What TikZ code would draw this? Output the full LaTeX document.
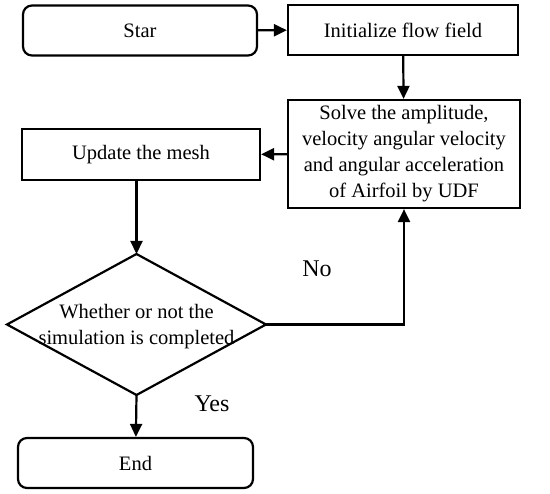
\documentclass[tikz,border=0pt]{standalone}
\usepackage{fontspec}
\setmainfont{Liberation Serif}
\usetikzlibrary{arrows.meta}
\begin{document}
\begin{tikzpicture}[x=1pt,y=-1pt,
  every node/.style={font=\fontsize{20.5}{26}\selectfont},
  lbl/.style={font=\fontsize{24}{28}\selectfont},
  box/.style={draw,line width=2.2pt,minimum height=50pt,align=center,inner sep=2pt},
  rbox/.style={box,rounded corners=9pt},
  conn/.style={line width=2.2pt,-{Triangle[length=13pt,width=12pt]}}]
\useasboundingbox (0,0) rectangle (550,494);
\node[rbox,minimum width=234pt] (star) at (140,30.5) {Star};
\node[box,minimum width=230pt] (init) at (403,30) {Initialize flow field};
\node[box,minimum width=232pt,minimum height=108pt] (solve) at (404,154) {Solve the amplitude,\\velocity angular velocity\\and angular acceleration\\of Airfoil by UDF};
\node[box,minimum width=238pt,minimum height=51pt] (upd) at (141,154.5) {Update the mesh};
\coordinate (dtop) at (136.5,254);
\coordinate (dbot) at (136.5,395);
\coordinate (dleft) at (7,324.5);
\coordinate (dright) at (266,324.5);
\draw[line width=2.2pt,line join=miter] (dtop) -- (dright) -- (dbot) -- (dleft) -- cycle;
\node[align=center] (dec) at (136.5,327) {Whether or not the\\simulation is completed};
\node[rbox,minimum width=235pt] (end) at (135.5,463) {End};
\node[lbl] (no) at (317,269) {No};
\node[lbl] (yes) at (212,404) {Yes};
\draw[conn] (star) -- (init);
\draw[conn] (init) -- (solve);
\draw[conn] (solve) -- (upd);
\draw[conn] (upd.south -| dtop) -- (dtop);
\draw[conn] (dbot) -- (end);
\draw[conn] (dright) -| (solve.south);
\end{tikzpicture}
\end{document}
